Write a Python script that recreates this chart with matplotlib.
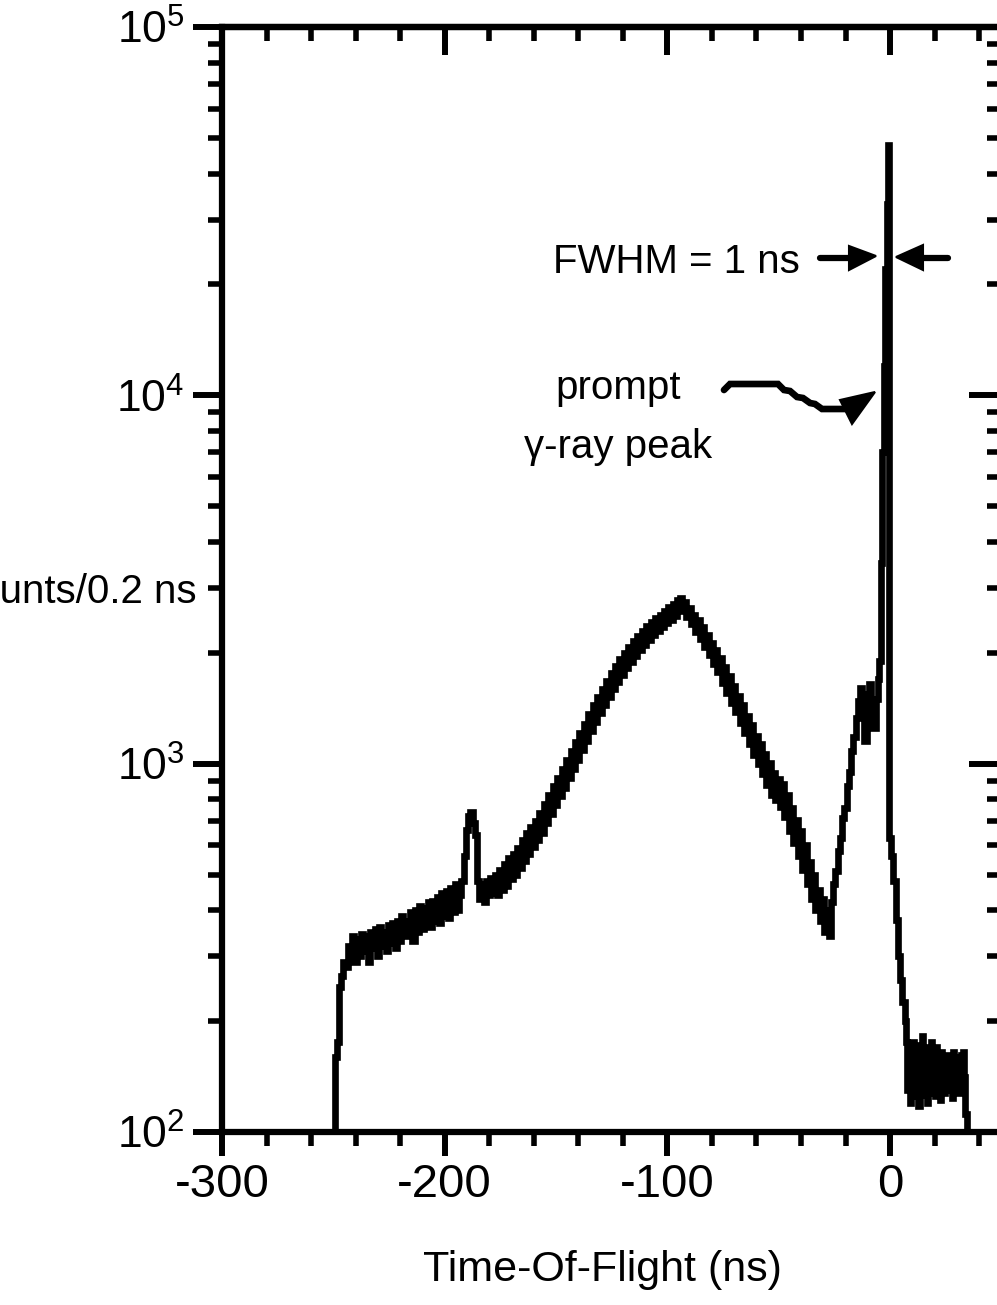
import matplotlib
matplotlib.use("Agg")
import matplotlib.pyplot as plt
from matplotlib.ticker import MultipleLocator, LogLocator, NullFormatter, FixedLocator
from matplotlib.lines import Line2D
from matplotlib.patches import Polygon

# ---------------- data ----------------
# onset and low-energy shoulder, -252 .. -177 ns
tof_a = [-252, -249.5, -249, -248, -247, -246, -245, -244, -243, -242, -241, -240,
         -239, -238, -237, -236, -235, -234, -233, -232, -231, -230, -229, -228,
         -227, -226, -225, -224, -223, -222, -221, -220, -219, -218, -217, -216,
         -215, -214, -213, -212, -211, -210, -209, -208, -207, -206, -205, -204,
         -203, -202, -201, -200, -199, -198, -197, -196, -195, -194, -193, -192,
         -191, -190, -189, -188, -187, -186, -185, -184, -183, -182, -181, -180,
         -179, -178, -177]
cnt_a = [80, 80, 160, 175, 247, 265, 290, 280, 320, 295, 340, 290,
         335, 300, 345, 310, 340, 290, 350, 315, 355, 300, 360, 320,
         350, 310, 365, 325, 370, 315, 375, 330, 385, 340, 375, 345,
         395, 330, 400, 350, 410, 355, 405, 365, 420, 360, 425, 375,
         435, 370, 445, 385, 450, 380, 460, 395, 470, 400, 440, 480,
         560, 660, 720, 740, 690, 640, 480, 430, 470, 420, 480, 440,
         490, 445, 500]
# main neutron hump, -176 .. -27 ns
tof_b = [-176, -175, -174, -173, -172, -171, -170, -169, -168, -167, -166, -165,
         -164, -163, -162, -161, -160, -159, -158, -157, -156, -155, -154, -153,
         -152, -151, -150, -149, -148, -147, -146, -145, -144, -143, -142, -141,
         -140, -139, -138, -137, -136, -135, -134, -133, -132, -131, -130, -129,
         -128, -127, -126, -125, -124, -123, -122, -121, -120, -119, -118, -117,
         -116, -115, -114, -113, -112, -111, -110, -109, -108, -107, -106, -105,
         -104, -103, -102, -101, -100, -99, -98, -97, -96, -95, -94, -93,
         -92, -91, -90, -89, -88, -87, -86, -85, -84, -83, -82, -81,
         -80, -79, -78, -77, -76, -75, -74, -73, -72, -71, -70, -69,
         -68, -67, -66, -65, -64, -63, -62, -61, -60, -59, -58, -57,
         -56, -55, -54, -53, -52, -51, -50, -49, -48, -47, -46, -45,
         -44, -43, -42, -41, -40, -39, -38, -37, -36, -35, -34, -33,
         -32, -31, -30, -29, -28, -27]
cnt_b = [440, 515, 455, 535, 465, 555, 485, 570, 500, 590, 520, 620,
         545, 650, 570, 675, 595, 700, 620, 735, 650, 775, 690, 820,
         730, 870, 770, 915, 815, 965, 860, 1020, 915, 1085, 970, 1145,
         1025, 1215, 1090, 1285, 1155, 1360, 1225, 1440, 1295, 1515, 1370, 1595,
         1440, 1680, 1520, 1760, 1595, 1840, 1670, 1920, 1740, 2000, 1815, 2070,
         1890, 2150, 1960, 2220, 2030, 2290, 2100, 2360, 2160, 2420, 2230, 2490,
         2290, 2540, 2350, 2600, 2410, 2660, 2460, 2710, 2520, 2780, 2820, 2600,
         2740, 2500, 2640, 2390, 2540, 2280, 2450, 2180, 2350, 2080, 2240, 1970,
         2130, 1870, 2030, 1770, 1930, 1660, 1830, 1560, 1730, 1460, 1630, 1380,
         1530, 1290, 1440, 1210, 1350, 1130, 1270, 1055, 1190, 995, 1130, 935,
         1065, 875, 1005, 820, 945, 795, 910, 765, 880, 715, 820, 655,
         760, 610, 705, 560, 655, 515, 600, 470, 540, 430, 500, 400,
         455, 375, 430, 350, 400, 340]
# fast rise and prompt gamma peak, -26 .. -0.4 ns
tof_c = [-26, -25, -24, -23, -22, -21, -20, -19, -18, -17, -16, -15, -14, -13,
         -12, -11, -10, -9, -8, -7, -6, -5, -4.5, -3.8, -3.1, -2.4, -1.8, -1.2,
         -0.6, -0.4]
cnt_c = [420, 470, 510, 580, 630, 710, 760, 870, 950, 1080, 1180, 1330, 1480, 1600,
         1450, 1150, 1550, 1650, 1400, 1250, 1500, 1700, 1900, 3500, 7000, 12000, 22000, 33000,
         47900, 630]
# decay tail after the peak, 0.2 .. 38 ns
tof_d = [0.2, 1.0, 2.0, 3.0, 4.0, 5.0, 6.0, 7.0, 7.5, 8.0, 8.5, 9.0, 9.5, 10.0,
         10.5, 11.0, 11.5, 12.0, 12.5, 13.0, 13.5, 14.0, 14.5, 15.0, 15.5, 16.0,
         16.5, 17.0, 17.5, 18.0, 18.5, 19.0, 19.5, 20.0, 20.5, 21.0, 21.5, 22.0,
         22.5, 23.0, 23.5, 24.0, 24.5, 25.0, 25.5, 26.0, 26.5, 27.0, 27.5, 28.0,
         28.5, 29.0, 29.5, 30.0, 30.5, 31.0, 31.5, 32.0, 32.5, 33.0, 33.5, 34.0,
         35.0, 36.0, 37.0, 38.0]
cnt_d = [630, 560, 480, 376, 300, 258, 225, 200, 175, 130, 170, 120, 165, 140,
         175, 125, 160, 135, 172, 118, 155, 140, 182, 126, 165, 132, 170, 120,
         160, 140, 175, 128, 150, 158, 125, 170, 135, 160, 122, 165, 140, 155,
         128, 150, 162, 130, 158, 138, 150, 124, 165, 135, 145, 160, 128, 150,
         140, 162, 135, 165, 141, 112, 100, 90, 80, 80]

tof = tof_a + tof_b + tof_c + tof_d
counts = cnt_a + cnt_b + cnt_c + cnt_d

xticks_major = [-300, -200, -100, 0]
xtick_labels = ['-300', '-200', '-100', '0']
ytick_vals = [1e2, 1e3, 1e4, 1e5]
ytick_labels = [r'$\mathregular{10^2}$', r'$\mathregular{10^3}$',
                r'$\mathregular{10^4}$', r'$\mathregular{10^5}$']

# ---------------- figure ----------------
W, H = 997, 1305
DPI = 100
plt.rcParams['font.family'] = ['Liberation Sans', 'DejaVu Sans']
plt.rcParams['mathtext.fontset'] = 'custom'
plt.rcParams['mathtext.rm'] = 'Liberation Sans'
plt.rcParams['mathtext.it'] = 'Liberation Sans:italic'
plt.rcParams['mathtext.bf'] = 'Liberation Sans:bold'

fig = plt.figure(figsize=(W / DPI, H / DPI), dpi=DPI)
def fx(px):
    return px / W
def fy(py):
    return 1 - py / H

left, right, top, bottom = 222, 1001.4, 27, 1132
ax = fig.add_axes([fx(left), fy(bottom), (right - left) / W, (bottom - top) / H])
ax.set_yscale('log')
ax.set_xlim(-300, 50)
ax.set_ylim(1e2, 1e5)

ax.plot(tof, counts, color='black', lw=4.8, drawstyle='steps-mid',
        solid_joinstyle='miter', clip_on=True)

for s in ax.spines.values():
    s.set_linewidth(4.5)

ax.xaxis.set_major_locator(FixedLocator(xticks_major))
ax.xaxis.set_minor_locator(MultipleLocator(20))
ax.set_xticklabels(xtick_labels, fontsize=34)
ax.yaxis.set_major_locator(FixedLocator(ytick_vals))
ax.set_yticklabels(ytick_labels, fontsize=32)
ax.yaxis.set_minor_locator(LogLocator(base=10, subs=range(2, 10)))
ax.yaxis.set_minor_formatter(NullFormatter())

ax.tick_params(axis='x', which='major', direction='out', length=17, width=4.3, pad=5, top=False)
ax.tick_params(axis='x', which='minor', direction='out', length=10, width=4.0, top=False)
ax.tick_params(axis='y', which='major', direction='out', length=21, width=4.3, pad=6, right=False)
ax.tick_params(axis='y', which='minor', direction='out', length=10, width=4.0, right=False)

# top / right inward ticks
sx = ax.secondary_xaxis('top')
sx.xaxis.set_major_locator(FixedLocator(xticks_major))
sx.xaxis.set_minor_locator(MultipleLocator(20))
sx.tick_params(axis='x', which='major', direction='in', length=20, width=4.3, labeltop=False)
sx.tick_params(axis='x', which='minor', direction='in', length=10, width=4.0)
sx.spines['top'].set_linewidth(4.5)

sy = ax.secondary_yaxis('right')
sy.yaxis.set_major_locator(FixedLocator(ytick_vals))
sy.yaxis.set_minor_locator(LogLocator(base=10, subs=range(2, 10)))
sy.yaxis.set_minor_formatter(NullFormatter())
sy.tick_params(axis='y', which='major', direction='in', length=23, width=4.3, labelright=False)
sy.tick_params(axis='y', which='minor', direction='in', length=10, width=4.0)
sy.spines['right'].set_linewidth(4.5)

# axis labels
fig.text(fx(602), fy(1270), 'Time-Of-Flight (ns)', fontsize=31,
         ha='center', va='center')
fig.text(fx(197), fy(592), 'Counts/0.2 ns', fontsize=29, ha='right', va='center')

# annotations
fig.text(fx(553), fy(262), 'FWHM = 1 ns', fontsize=29, ha='left', va='center')
fig.text(fx(618), fy(388), 'prompt', fontsize=29, ha='center', va='center')
fig.text(fx(618), fy(447), 'γ-ray peak', fontsize=29, ha='center', va='center')

def seg(xs, ys, lw=4.5):
    fig.add_artist(Line2D([fx(v) for v in xs], [fy(v) for v in ys], color='black',
                          lw=lw, solid_capstyle='round', solid_joinstyle='miter'))

def head(pts):
    fig.add_artist(Polygon([(fx(a), fy(b)) for a, b in pts], closed=True,
                           facecolor='black', edgecolor='black', lw=1.5))

# FWHM arrows
seg([820, 852], [258, 258])
head([(849, 246), (876, 256), (849, 270)])
seg([922, 948], [258, 258])
head([(923, 245), (896, 257), (923, 270)])

# wavy arrow
seg([724, 730, 778, 784, 790, 797, 803, 810, 815, 822, 845],
    [390, 384, 384, 390, 391, 397, 398, 403, 404, 409, 409], lw=4.8)
head([(840, 400), (875, 392), (852, 424)])

fig.savefig('out.png', dpi=DPI)
